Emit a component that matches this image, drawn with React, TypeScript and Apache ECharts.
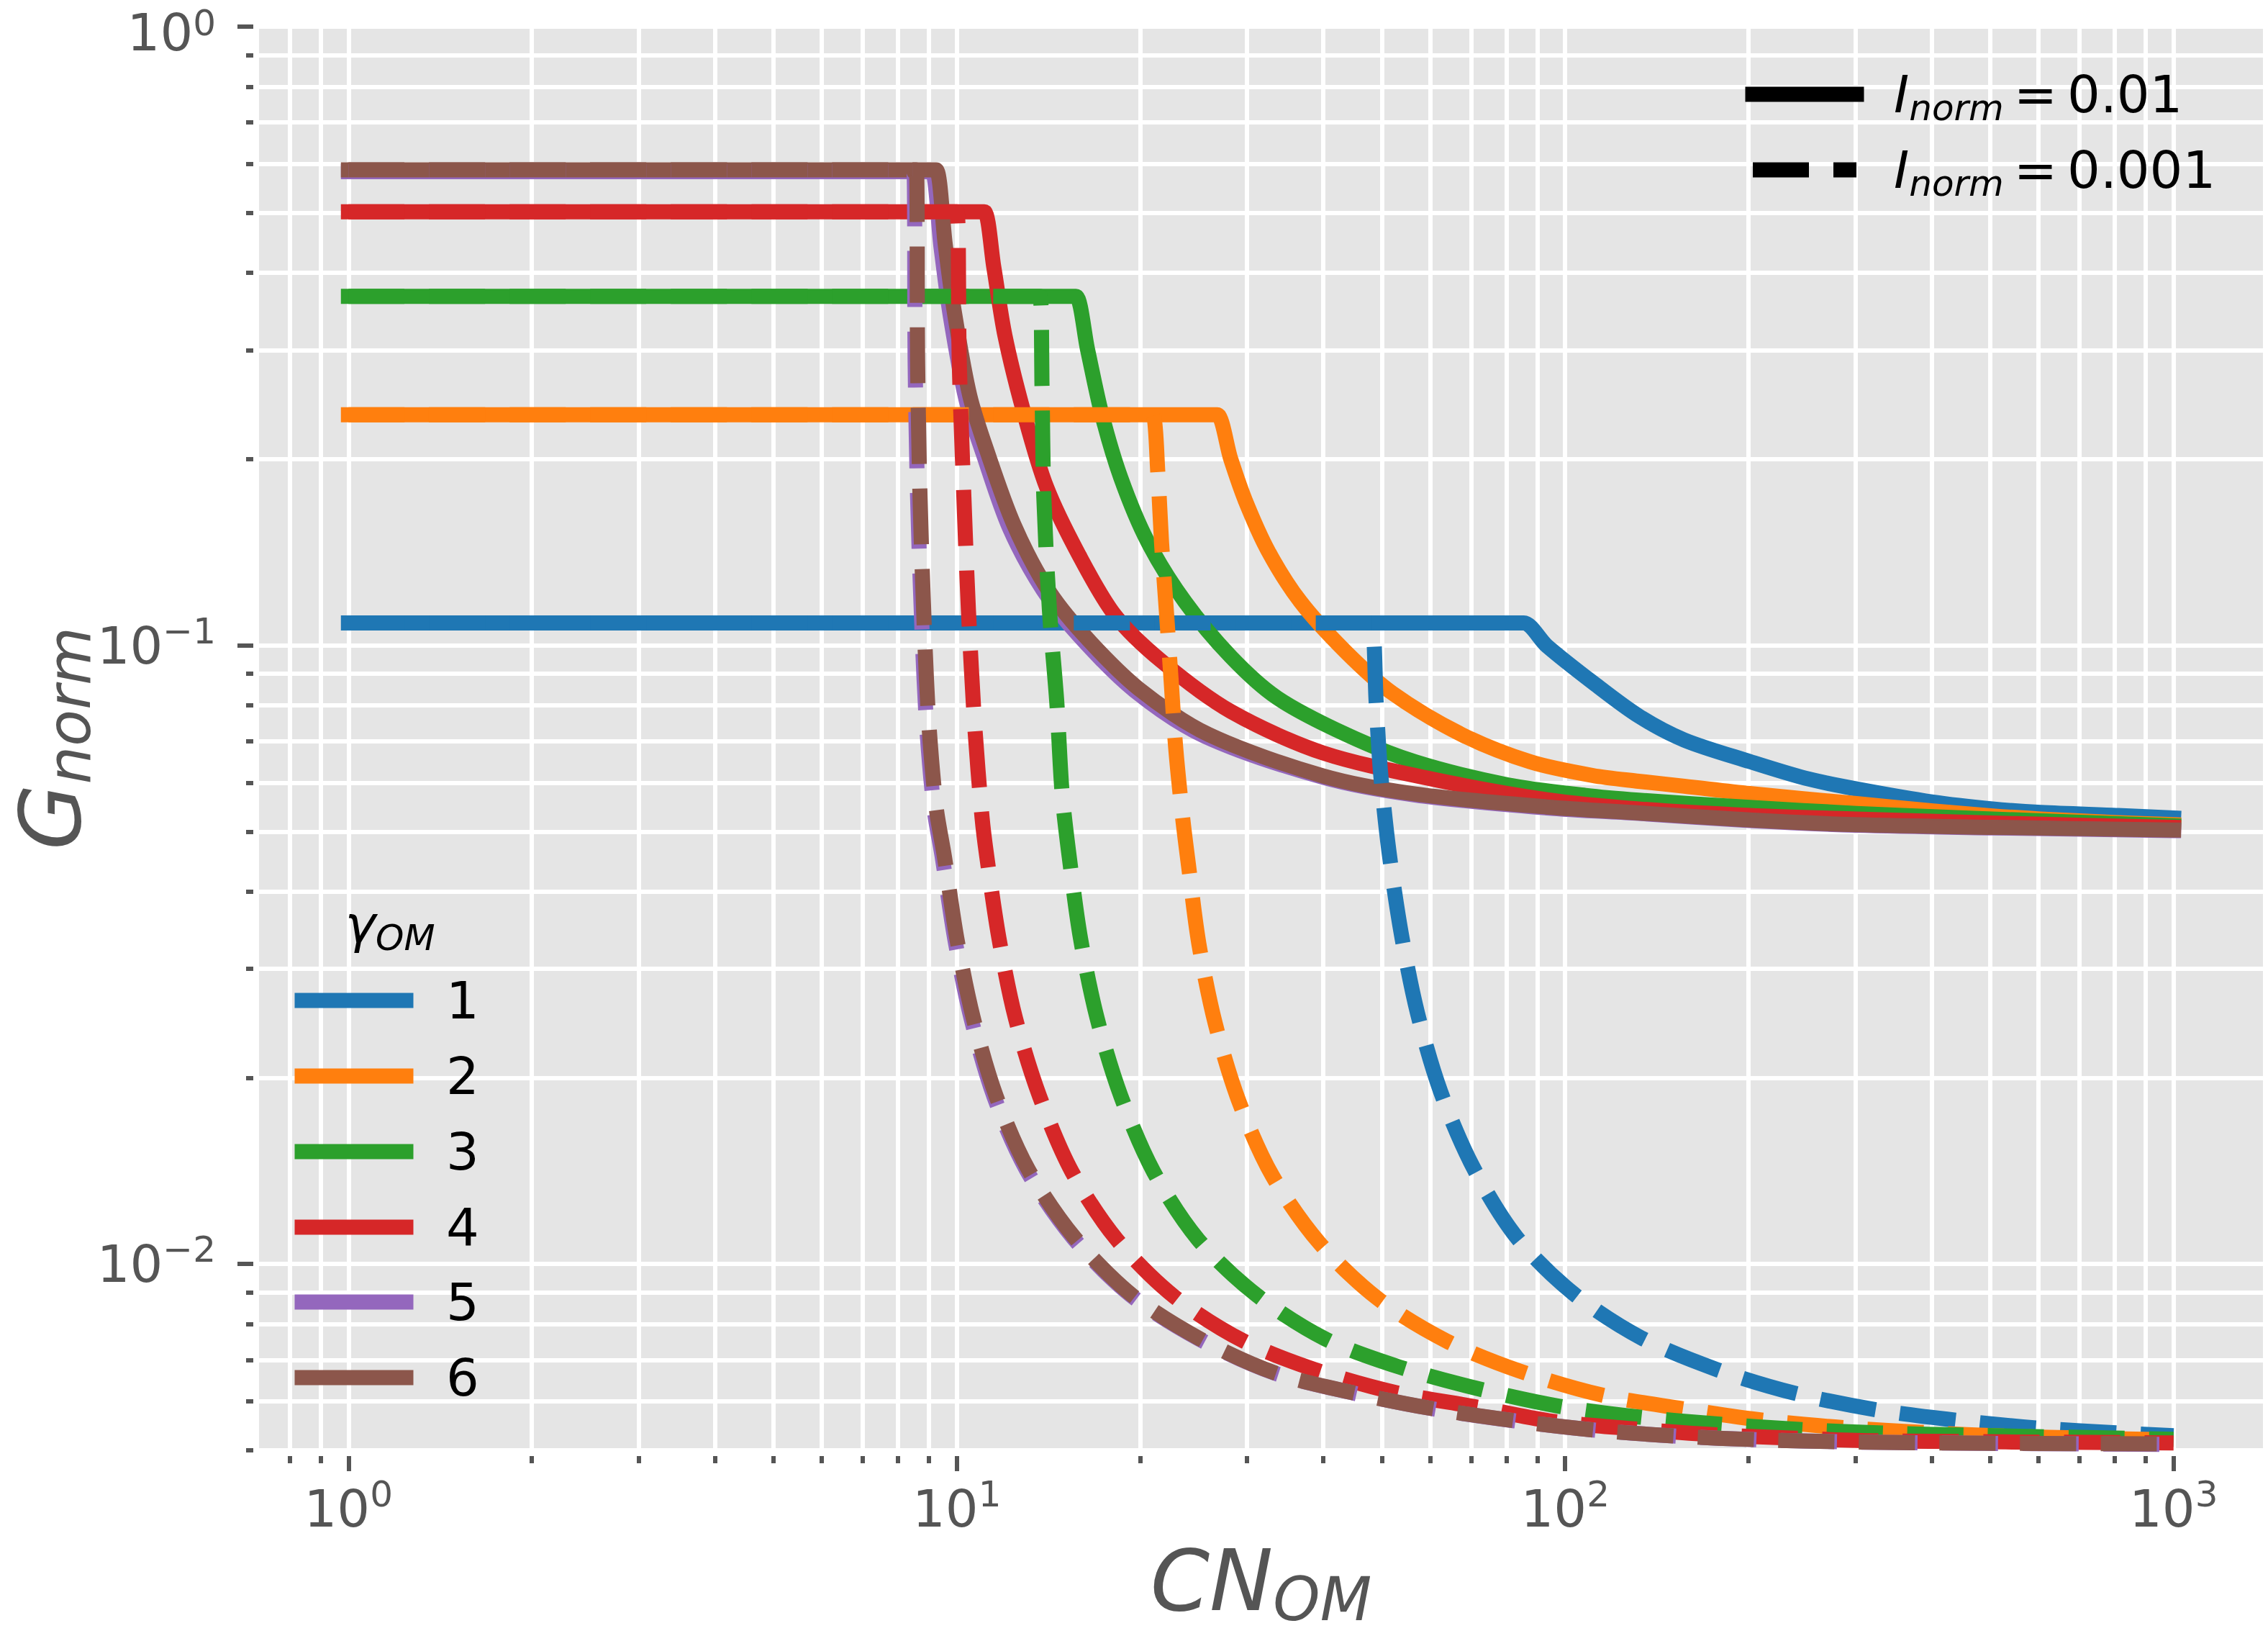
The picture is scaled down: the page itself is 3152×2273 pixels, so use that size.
import React, { useEffect, useRef } from 'react';
import * as echarts from 'echarts';

type Pt = [number, number];

const gammaNames = ['1', '2', '3', '4', '5', '6'];
const gammaColors = ['#1f77b4', '#ff7f0e', '#2ca02c', '#d62728', '#9467bd', '#8c564b'];
const inormValues = ['0.01', '0.001'];

// I_norm = 0.01 (solid): [CN_OM, G_norm]
const solid1: Pt[] = [[1, 0.1087], [83.5, 0.1087], [85.5, 0.1087], [93.3, 0.0998], [111, 0.0871], [132, 0.0769], [157, 0.0703], [201, 0.0649], [248, 0.061], [301, 0.0586], [402, 0.0558], [504, 0.0544], [605, 0.0537], [811, 0.0531], [1000, 0.0526]];
const solid2: Pt[] = [[1, 0.2358], [26.2, 0.2358], [26.8, 0.2358], [28.2, 0.2], [29.8, 0.1714], [32.5, 0.142], [36.7, 0.1177], [43.6, 0.0976], [52, 0.0837], [67.5, 0.0718], [87.7, 0.0648], [111, 0.0616], [132, 0.0603], [157, 0.0592], [201, 0.0576], [301, 0.0555], [402, 0.054], [504, 0.053], [605, 0.0524], [811, 0.0517], [1000, 0.0513]];
const solid3: Pt[] = [[1, 0.3666], [15.35, 0.3666], [15.7, 0.3666], [16.4, 0.3008], [17.3, 0.2368], [18.6, 0.1866], [20.6, 0.147], [23.7, 0.1177], [28.2, 0.0959], [33.6, 0.0823], [43.6, 0.0718], [56.7, 0.0648], [80.4, 0.0595], [108, 0.0572], [132, 0.0562], [201, 0.0547], [301, 0.0535], [504, 0.0524], [1000, 0.0511]];
const solid4: Pt[] = [[1, 0.502], [10.85, 0.502], [11.1, 0.502], [11.5, 0.409], [12.0, 0.3164], [12.9, 0.2368], [14.05, 0.18], [15.9, 0.1396], [18.2, 0.1118], [21.7, 0.0943], [28.2, 0.0782], [40, 0.067], [61.9, 0.0605], [93.3, 0.0563], [132, 0.0544], [201, 0.0531], [301, 0.0524], [550, 0.0515], [1000, 0.0508]];
const solid5: Pt[] = [[1, 0.583], [8.9, 0.583], [9.1, 0.583], [9.42, 0.44], [9.76, 0.34], [10.35, 0.25], [11.05, 0.204], [12.2, 0.155], [13.85, 0.123], [15.9, 0.1035], [19.6, 0.0845], [25.5, 0.0714], [40, 0.0612], [56.7, 0.0573], [93.3, 0.0546], [132, 0.0535], [201, 0.0521], [301, 0.0512], [504, 0.0507], [1000, 0.0502]];
const solid6: Pt[] = [[1, 0.587], [9.05, 0.587], [9.25, 0.587], [9.57, 0.445], [9.91, 0.345], [10.5, 0.2535], [11.2, 0.2066], [12.4, 0.157], [14.05, 0.124], [16.1, 0.1045], [19.9, 0.0851], [25.9, 0.0718], [40, 0.0615], [56.7, 0.0575], [93.3, 0.0548], [132, 0.0536], [201, 0.0522], [301, 0.0513], [504, 0.0508], [1000, 0.0503]];

// I_norm = 0.001 (dashed): [CN_OM, G_norm]
const dashed1: Pt[] = [[1, 0.1087], [47.0, 0.1087], [48.1, 0.1087], [48.9, 0.0809], [49.7, 0.0626], [51.3, 0.0466], [53.8, 0.0341], [57.2, 0.0254], [62.4, 0.019], [70.6, 0.01433], [83.2, 0.01105], [103.2, 0.00896], [133.3, 0.0076], [178.5, 0.00674], [239, 0.00618], [326, 0.00581], [441, 0.00559], [601, 0.00543], [820, 0.00533], [1000, 0.00528]];
const dashed2: Pt[] = [[1, 0.2358], [20.5, 0.2358], [21.0, 0.2358], [21.4, 0.19], [21.7, 0.147], [22.1, 0.1138], [22.5, 0.0881], [22.9, 0.0682], [23.5, 0.0528], [24.0, 0.0446], [25.0, 0.0329], [26.6, 0.02445], [29.1, 0.0183], [33.0, 0.0139], [39.5, 0.0108], [49.3, 0.00878], [63.8, 0.00751], [84.0, 0.00672], [115, 0.00614], [155.7, 0.00584], [212, 0.00559], [287, 0.00544], [391, 0.00534], [534, 0.00527], [729, 0.00523], [1000, 0.0052]];
const dashed3: Pt[] = [[1, 0.3666], [13.4, 0.3666], [13.7, 0.3666], [13.8, 0.267], [13.9, 0.174], [14.2, 0.1138], [14.6, 0.0809], [14.9, 0.0575], [15.3, 0.0456], [15.97, 0.0336], [17.0, 0.025], [18.6, 0.0187], [21.06, 0.0141], [24.9, 0.01097], [31.1, 0.00891], [40.3, 0.00757], [53.3, 0.00682], [71.8, 0.00629], [97.8, 0.00589], [132, 0.00566], [180, 0.00551], [246, 0.0054], [335, 0.00533], [457, 0.00529], [1000, 0.00521]];
const dashed4: Pt[] = [[1, 0.502], [9.78, 0.502], [10.0, 0.502], [10.09, 0.29], [10.27, 0.174], [10.45, 0.1138], [10.7, 0.0743], [11.0, 0.0528], [11.2, 0.0456], [11.73, 0.0336], [12.48, 0.025], [13.67, 0.0187], [15.46, 0.0141], [18.3, 0.01097], [22.8, 0.00885], [29.6, 0.00751], [39.3, 0.00672], [52.9, 0.00619], [71.2, 0.00588], [94.2, 0.00558], [128.5, 0.00542], [175, 0.0053], [239, 0.00523], [326, 0.00518], [1000, 0.00514]];
const dashed5: Pt[] = [[1, 0.583], [8.3, 0.583], [8.5, 0.583], [8.54, 0.29], [8.62, 0.174], [8.77, 0.1045], [8.92, 0.0743], [9.17, 0.0546], [9.46, 0.0456], [9.92, 0.0336], [10.55, 0.025], [11.5, 0.0187], [13.0, 0.01423], [15.5, 0.01105], [19.3, 0.00891], [25, 0.00757], [33.2, 0.00667], [44.8, 0.00619], [60.3, 0.00584], [82.5, 0.00558], [112, 0.00539], [153, 0.00527], [208, 0.0052], [287, 0.00516], [391, 0.00514], [1000, 0.00511]];
const dashed6: Pt[] = [[1, 0.587], [8.39, 0.587], [8.58, 0.587], [8.62, 0.29], [8.7, 0.174], [8.85, 0.1045], [9.0, 0.0743], [9.25, 0.0546], [9.54, 0.0456], [10.0, 0.0336], [10.64, 0.025], [11.6, 0.0187], [13.1, 0.01423], [15.6, 0.01105], [19.4, 0.00891], [25.1, 0.00757], [33.3, 0.00667], [44.9, 0.00619], [60.4, 0.00584], [82.6, 0.00558], [112, 0.00539], [153, 0.00527], [208, 0.0052], [287, 0.00516], [391, 0.00514], [1000, 0.00512]];

const solidSeries = [solid1, solid2, solid3, solid4, solid5, solid6];
const dashedSeries = [dashed1, dashed2, dashed3, dashed4, dashed5, dashed6];

// axes
const xMajorTicks = [1, 10, 100, 1000];
const xMinorTicks = [0.8, 0.9, 2, 3, 4, 5, 6, 7, 8, 9, 20, 30, 40, 50, 60, 70, 80, 90, 200, 300, 400, 500, 600, 700, 800, 900];
const yMajorTicks = [0.01, 0.1, 1];
const yMinorTicks = [0.005, 0.006, 0.007, 0.008, 0.009, 0.02, 0.03, 0.04, 0.05, 0.06, 0.07, 0.08, 0.09, 0.2, 0.3, 0.4, 0.5, 0.6, 0.7, 0.8, 0.9];
const xLimits = [0.7129, 1402.7];
const yLimits = [0.005, 1];

const FONT = 'DejaVu Sans';
const GREY = '#555555';
const BG = '#E5E5E5';

const lg = (v: number) => Math.log10(v);
const toLog = (d: Pt[]) => d.map(([x, y]) => [lg(x), lg(y)]);
const expText = (e: number) => (e < 0 ? '\u2212' + Math.abs(e) : String(e));
const powLabelX = (v: number) => `{b|10}{s|${expText(Math.round(v))}}`;
const powLabelY = (v: number) => {
  const e = Math.round(v);
  // the top label sits at the figure edge: nudge it inside
  return e === 0 ? `{bt|10}{st|${expText(e)}}` : `{b|10}{s|${expText(e)}}`;
};

const tickRich = {
  b: { fontSize: 72, lineHeight: 90, fontFamily: FONT, color: GREY },
  s: { fontSize: 50, lineHeight: 50, verticalAlign: 'top', fontFamily: FONT, color: GREY },
  bt: { fontSize: 72, lineHeight: 88, verticalAlign: 'bottom', fontFamily: FONT, color: GREY },
  st: { fontSize: 50, lineHeight: 50, verticalAlign: 'top', padding: [14, 0, 0, 0], fontFamily: FONT, color: GREY },
};
const nameRich = {
  m: { fontSize: 118, lineHeight: 137, fontStyle: 'italic', fontFamily: FONT, color: GREY },
  s: { fontSize: 83, lineHeight: 83, fontStyle: 'italic', verticalAlign: 'bottom', fontFamily: FONT, color: GREY },
};
const legendRich = {
  i: { fontSize: 72, lineHeight: 88, fontStyle: 'italic', fontFamily: FONT, fill: '#000' },
  s: { fontSize: 50, lineHeight: 50, fontStyle: 'italic', verticalAlign: 'bottom', fontFamily: FONT, fill: '#000' },
  p: { fontSize: 44, lineHeight: 44, fontFamily: FONT, fill: '#000' },
  t: { fontSize: 72, lineHeight: 88, fontFamily: FONT, fill: '#000' },
};

function buildOption() {
  const xMin = lg(xLimits[0]);
  const xMax = lg(xLimits[1]);
  const yMin = lg(yLimits[0]);
  const yMax = lg(yLimits[1]);
  const tickLine = { color: GREY, width: 6 };
  const noLine = { show: false, onZero: false };

  const series: any[] = [];
  solidSeries.forEach((d, i) => {
    series.push({
      type: 'line', name: gammaNames[i], data: toLog(d), xAxisIndex: 0, yAxisIndex: 0,
      showSymbol: false, symbol: 'none', smooth: 0.3, silent: true, clip: true,
      itemStyle: { color: gammaColors[i] },
      lineStyle: { color: gammaColors[i], width: 21, type: 'solid', cap: 'square', join: 'round' },
      emphasis: { disabled: true },
    });
  });
  dashedSeries.forEach((d, i) => {
    series.push({
      type: 'line', name: gammaNames[i] + ' (I=' + inormValues[1] + ')', data: toLog(d), xAxisIndex: 0, yAxisIndex: 0,
      showSymbol: false, symbol: 'none', smooth: 0.3, silent: true, clip: true,
      itemStyle: { color: gammaColors[i] },
      lineStyle: { color: gammaColors[i], width: 21, type: [78, 34], cap: 'butt', join: 'round' },
      emphasis: { disabled: true },
    });
  });

  const legendY = [1390, 1495, 1600, 1705, 1809, 1914];
  const graphic: any[] = [];
  gammaNames.forEach((n, i) => {
    graphic.push({
      type: 'line', z: 100, silent: true,
      shape: { x1: 420, y1: legendY[i], x2: 564, y2: legendY[i] },
      style: { stroke: gammaColors[i], lineWidth: 21, lineCap: 'square' },
    });
    graphic.push({
      type: 'text', z: 100, silent: true, x: 620, y: legendY[i],
      style: { text: n, fontSize: 72, fontFamily: FONT, fill: '#000', verticalAlign: 'middle', align: 'left' },
    });
  });
  graphic.push({
    type: 'text', z: 100, silent: true, x: 542, y: 1284,
    style: { text: '{i|\u03b3}{s|OM}', rich: legendRich, align: 'center', verticalAlign: 'middle' },
  });
  const topY = [131, 236];
  inormValues.forEach((v, i) => {
    graphic.push({
      type: 'line', z: 100, silent: true,
      shape: { x1: 2436, y1: topY[i], x2: 2580, y2: topY[i] },
      style: i === 0
        ? { stroke: '#000', lineWidth: 21, lineCap: 'square' }
        : { stroke: '#000', lineWidth: 21, lineCap: 'butt', lineDash: [78, 34] },
    });
    graphic.push({
      type: 'text', z: 100, silent: true, x: 2632, y: topY[i],
      style: { text: `{i|I}{s|norm}{p| }{t|=}{p| }{t|${v}}`, rich: legendRich, align: 'left', verticalAlign: 'middle' },
    });
  });

  return {
    animation: false,
    backgroundColor: '#ffffff',
    textStyle: { fontFamily: FONT },
    grid: {
      left: 360, right: 7, top: 37, bottom: 258,
      show: true, backgroundColor: BG, borderWidth: 0,
      containLabel: false, outerBoundsMode: 'none',
    },
    xAxis: [
      {
        type: 'value', gridIndex: 0, position: 'bottom', offset: 8, min: xMin, max: xMax,
        axisLine: noLine,
        axisTick: { show: true, customValues: [...xMajorTicks, ...xMinorTicks].map(lg), length: 10, lineStyle: tickLine },
        axisLabel: { show: false },
        splitLine: { show: true, lineStyle: { color: '#ffffff', width: 6 } },
        minorTick: { show: false }, minorSplitLine: { show: false },
      },
      {
        type: 'value', gridIndex: 0, position: 'bottom', offset: 8, min: xMin, max: xMax,
        axisLine: noLine,
        axisTick: { show: true, customValues: xMajorTicks.map(lg), length: 21, lineStyle: tickLine },
        axisLabel: {
          show: true, customValues: xMajorTicks.map(lg), formatter: powLabelX, margin: 28,
          color: GREY, fontFamily: FONT, fontSize: 72, rich: tickRich,
        },
        splitLine: { show: false },
        name: '{m|CN}{s|OM}', nameLocation: 'middle', nameGap: 104, nameMoveOverlap: false,
        nameTextStyle: { color: GREY, fontFamily: FONT, rich: nameRich },
      },
    ],
    yAxis: [
      {
        type: 'value', gridIndex: 0, position: 'left', offset: 8, min: yMin, max: yMax,
        axisLine: noLine,
        axisTick: { show: true, customValues: [...yMajorTicks, ...yMinorTicks].map(lg), length: 10, lineStyle: tickLine },
        axisLabel: { show: false },
        splitLine: { show: true, lineStyle: { color: '#ffffff', width: 6 } },
        minorTick: { show: false }, minorSplitLine: { show: false },
      },
      {
        type: 'value', gridIndex: 0, position: 'left', offset: 8, min: yMin, max: yMax,
        axisLine: noLine,
        axisTick: { show: true, customValues: yMajorTicks.map(lg), length: 22, lineStyle: tickLine },
        axisLabel: {
          show: true, customValues: yMajorTicks.map(lg), formatter: powLabelY, margin: 52,
          color: GREY, fontFamily: FONT, fontSize: 72, rich: tickRich,
        },
        splitLine: { show: false },
        name: '{m|G}{s|norm}', nameLocation: 'middle', nameGap: 214, nameRotate: 90, nameMoveOverlap: false,
        nameTextStyle: { color: GREY, fontFamily: FONT, rich: nameRich },
      },
    ],
    series,
    graphic,
  };
}

export default function App() {
  const ref = useRef<HTMLDivElement>(null);
  useEffect(() => {
    if (!ref.current) return;
    const chart = echarts.init(ref.current, null, { renderer: 'svg' });
    chart.setOption(buildOption() as any);
    return () => chart.dispose();
  }, []);
  return <div ref={ref} style={{ position: 'absolute', left: 0, top: 0, width: 3152, height: 2273 }} />;
}
